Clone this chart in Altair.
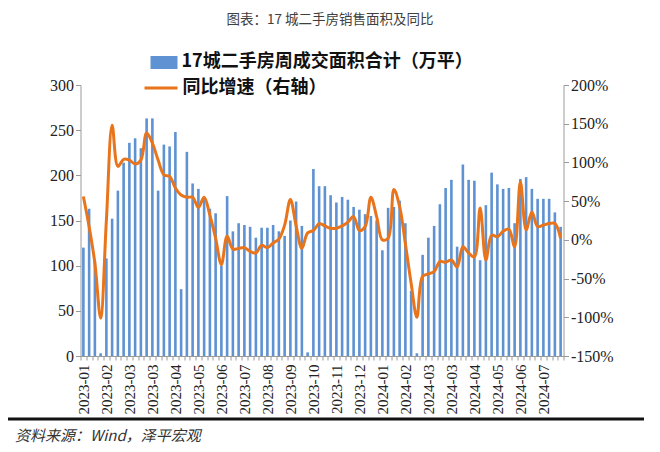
import json
import altair as alt
import pandas as pd

tick_labels = ["2023-01", "2023-02", "2023-03", "2023-03", "2023-04", "2023-05", "2023-06",
               "2023-07", "2023-08", "2023-09", "2023-10", "2023-11", "2023-12", "2024-01",
               "2024-02", "2024-03", "2024-03", "2024-04", "2024-05", "2024-06", "2024-07"]

area_values = [120, 163, 105, 3, 108, 152, 183, 214, 236, 241, 230, 263, 263, 183, 234, 232,
               248, 74, 226, 191, 185, 176, 163, 158, 100, 177, 138, 147, 145, 143, 131, 142,
               142, 145, 138, 133, 150, 171, 144, 4, 207, 188, 188, 178, 170, 176, 173, 165,
               162, 157, 155, 150, 117, 164, 165, 172, 147, 72, 3, 112, 131, 144, 168, 186,
               195, 121, 212, 195, 194, 106, 167, 203, 190, 185, 186, 147, 196, 198, 185, 174,
               174, 174, 159, 143]

yoy_values = [56, 17, -30, -101, 25, 148, 95, 104, 103, 98, 103, 138, 125, 103, 84, 82,
              67, 58, 55, 55, 42, 55, 32, 2, -32, 5, -12, -11, -10, -15, -17, -7,
              -10, -4, 1, 19, 52, 18, -11, 9, 12, 21, 18, 15, 15, 18, 23, 30,
              12, 17, 55, 30, 0, 2, 65, 43, -5, -56, -100, -47, -44, -41, -28, -29,
              -26, -35, -9, -17, -22, 41, -26, 6, 4, 11, 14, -9, 75, 13, 36, 17,
              19, 21, 21, 2]

title_text = "图表：17 城二手房销售面积及同比"
legend_bar = "17城二手房周成交面积合计（万平）"
legend_line = "同比增速（右轴）"
source_text = "资料来源：Wind，泽平宏观"

df = pd.DataFrame({
    "idx": list(range(len(area_values))),
    "area": area_values,
    "yoy": yoy_values,
})

BAR_COLOR = "#5E92D2"
LINE_COLOR = "#E8741C"
AXIS_GRAY = "#9A9A9A"
SERIF = "Liberation Serif"
CJK = "Noto Sans CJK SC"

label_expr = ("datum.value % 4 == 0 ? " + json.dumps(tick_labels) +
              "[floor(datum.value / 4)] : ''")

x_enc = alt.X(
    "idx:O",
    scale=alt.Scale(paddingInner=0, paddingOuter=0),
    axis=alt.Axis(
        title=None,
        values=list(range(len(area_values))),
        labelExpr=label_expr,
        tickBand="extent",
        labelAngle=270,
        labelAlign="right",
        labelBaseline="middle",
        labelOverlap=False,
        labelFont=SERIF,
        labelFontSize=15,
        labelColor="#222222",
        labelPadding=4,
        tickSize=4,
        tickColor=AXIS_GRAY,
        domainColor=AXIS_GRAY,
        grid=False,
    ),
)

bars = alt.Chart(df).mark_bar(size=2.6, color=BAR_COLOR).encode(
    x=x_enc,
    y=alt.Y(
        "area:Q",
        scale=alt.Scale(domain=[0, 300], nice=False),
        axis=alt.Axis(
            title=None,
            values=[0, 50, 100, 150, 200, 250, 300],
            labelFont=SERIF,
            labelFontSize=16,
            labelColor="#222222",
            tickSize=5,
            tickColor=AXIS_GRAY,
            domainColor=AXIS_GRAY,
            labelPadding=2,
            grid=False,
        ),
    ),
)

line = alt.Chart(df).mark_line(color=LINE_COLOR, strokeWidth=3,
                               interpolate="catmull-rom").encode(
    x=alt.X("idx:O"),
    y=alt.Y(
        "yoy:Q",
        scale=alt.Scale(domain=[-150, 200], nice=False),
        axis=alt.Axis(
            title=None,
            orient="right",
            values=[-150, -100, -50, 0, 50, 100, 150, 200],
            labelExpr="datum.value + '%'",
            labelFont=SERIF,
            labelFontSize=16,
            labelColor="#222222",
            tickSize=5,
            tickColor=AXIS_GRAY,
            domainColor=AXIS_GRAY,
            labelPadding=2,
            grid=False,
        ),
    ),
)

def text_layer(txt, x, y, size, weight="normal", style="normal", align="left",
               color="#222222", font=CJK):
    return alt.Chart(pd.DataFrame({"t": [txt]})).mark_text(
        align=align, baseline="middle", fontSize=size, fontWeight=weight,
        fontStyle=style, font=font, color=color,
    ).encode(x=alt.value(x), y=alt.value(y), text="t:N")

title = text_layer(title_text, 249.5, -65.5, 13.5, align="center", color="#404040")
leg1_text = text_layer(legend_bar, 101, -23, 18, weight="bold", color="#111111")
leg2_text = text_layer(legend_line, 102, 3, 18, weight="bold", color="#111111")
source = text_layer(source_text, -65.5, 350.5, 15, style="italic", color="#333333")

dummy = pd.DataFrame({"k": [0]})
leg1_box = alt.Chart(dummy).mark_rect(color=BAR_COLOR).encode(
    x=alt.value(70), x2=alt.value(97), y=alt.value(-29), y2=alt.value(-16))
leg2_sym = alt.Chart(dummy).mark_rule(color=LINE_COLOR, strokeWidth=3).encode(
    x=alt.value(64), x2=alt.value(97), y=alt.value(3))
bottom_rule = alt.Chart(dummy).mark_rule(color="#111111", strokeWidth=3).encode(
    x=alt.value(-72.5), x2=alt.value(571.5), y=alt.value(334))

chart = alt.layer(
    bars, line, title, leg1_box, leg1_text, leg2_sym, leg2_text, source, bottom_rule
).resolve_scale(y="independent").properties(
    width=483,
    height=271,
    autosize=alt.AutoSizeParams(type="none"),
    padding={"left": 72.5, "top": 77, "right": 80, "bottom": 88},
    background="white",
).configure_view(strokeWidth=0)

chart.save("out.html", embed_options={"renderer": "svg", "actions": False})
